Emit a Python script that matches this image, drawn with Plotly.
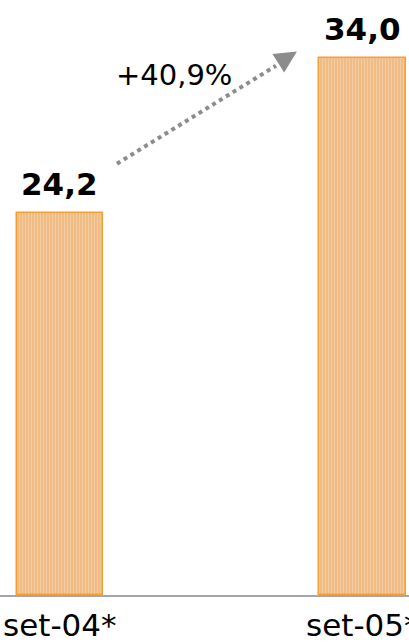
import plotly.graph_objects as go

categories = ["set-04*", "set-05*"]
values = [24.2, 34.0]
value_labels = ["24,2", "34,0"]
growth_label = "+40,9%"

x_pos = [0, 1]
FONT = "DejaVu Sans"

fig = go.Figure()
fig.add_trace(go.Bar(
    x=x_pos, y=values, width=0.287,
    marker=dict(
        color="#F1BF8A",
        line=dict(color="#F7A030", width=1.5),
        pattern=dict(shape="|", fgcolor="#F3DEC4", bgcolor="#F1BC84",
                     size=3, solidity=0.35, fillmode="overlay"),
    ),
    hoverinfo="skip", showlegend=False,
))

# dotted growth line
fig.add_trace(go.Scatter(
    x=[0.188, 0.713], y=[27.3, 33.5], mode="lines",
    line=dict(color="#8C8C8C", width=4, dash="dot"),
    hoverinfo="skip", showlegend=False,
))

annotations = []
for xp, v, lab in zip(x_pos, values, value_labels):
    annotations.append(dict(
        x=xp, y=v, text="<b>%s</b>" % lab, showarrow=False,
        yanchor="bottom", yshift=9,
        font=dict(family=FONT, size=31, color="#000000"),
    ))
for xp, cat in zip(x_pos, categories):
    annotations.append(dict(
        x=xp, y=0, yref="paper", text=cat, showarrow=False,
        yanchor="top", yshift=-10,
        font=dict(family=FONT, size=31, color="#000000"),
    ))
annotations.append(dict(
    x=0.376, y=32.9, text=growth_label, showarrow=False,
    font=dict(family=FONT, size=29, color="#000000"),
))
annotations.append(dict(
    x=0.782, y=34.4, text="", showarrow=True,
    ax=-19, ay=12, arrowhead=2, arrowsize=2.2, arrowwidth=2,
    arrowcolor="#8C8C8C",
))

fig.update_layout(
    width=409, height=644,
    margin=dict(l=0, r=0, t=0, b=49),
    paper_bgcolor="white", plot_bgcolor="white",
    annotations=annotations,
    xaxis=dict(
        range=[-0.198, 1.152], tickvals=x_pos, ticktext=["", ""],
        showgrid=False, zeroline=False, showline=True,
        linecolor="#A6A6A6", linewidth=2, ticks="",
        automargin=False, fixedrange=True,
    ),
    yaxis=dict(
        range=[0, 37.66], visible=False, fixedrange=True,
    ),
    bargap=0,
)

fig.write_html("out.html")
